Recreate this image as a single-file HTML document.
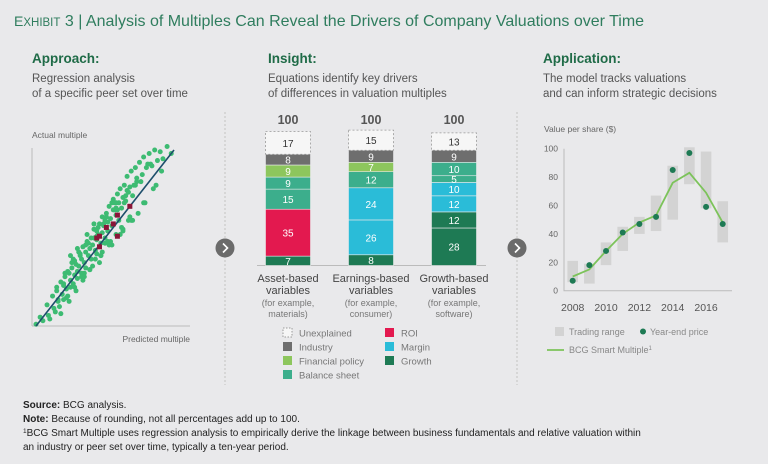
<!DOCTYPE html>
<html><head><meta charset="utf-8"><style>
html,body{margin:0;padding:0;background:#e9e9eb;}
svg{display:block;font-family:"Liberation Sans",sans-serif;}
</style></head><body>
<svg id="c" width="768" height="464" viewBox="0 0 768 464">
<text x="14" y="26" font-size="16" fill="#2f7d5e"><tspan font-size="14">E</tspan><tspan font-size="11.5">XHIBIT</tspan> 3 | Analysis of Multiples Can Reveal the Drivers of Company Valuations over Time</text>

<text x="32" y="63" font-size="13.5" font-weight="bold" fill="#1f6b47">Approach:</text>
<text x="32" y="82" font-size="11.5" fill="#555">Regression analysis</text>
<text x="32" y="97" font-size="11.5" fill="#555">of a specific peer set over time</text>

<text x="268" y="63" font-size="13.5" font-weight="bold" fill="#1f6b47">Insight:</text>
<text x="268" y="82" font-size="11.5" fill="#555">Equations identify key drivers</text>
<text x="268" y="97" font-size="11.5" fill="#555">of differences in valuation multiples</text>

<text x="543" y="63" font-size="13.5" font-weight="bold" fill="#1f6b47">Application:</text>
<text x="543" y="82" font-size="11.5" fill="#555">The model tracks valuations</text>
<text x="543" y="97" font-size="11.5" fill="#555">and can inform strategic decisions</text>

<line x1="225" y1="112" x2="225" y2="385" stroke="#c2c2c2" stroke-dasharray="2,2"/>
<line x1="517" y1="112" x2="517" y2="385" stroke="#c2c2c2" stroke-dasharray="2,2"/>
<g><circle cx="225" cy="248" r="9.5" fill="#6b6b6b"/><path d="M223 243.5 L227.5 248 L223 252.5" fill="none" stroke="#fff" stroke-width="1.6"/></g>
<g><circle cx="517" cy="248" r="9.5" fill="#6b6b6b"/><path d="M515 243.5 L519.5 248 L515 252.5" fill="none" stroke="#fff" stroke-width="1.6"/></g>

<!-- scatter -->
<text x="32" y="138" font-size="8.5" fill="#666">Actual multiple</text>
<text x="190" y="342" font-size="8.5" fill="#666" text-anchor="end">Predicted multiple</text>
<line x1="32" y1="148" x2="32" y2="326" stroke="#bbb"/>
<line x1="32" y1="326" x2="190" y2="326" stroke="#bbb"/>
<g id="scatter"></g>

<g id="stack"></g>
<g id="stackLegend"></g>

<text x="544" y="132" font-size="8.5" fill="#666">Value per share ($)</text>
<g id="vchart"></g>

<text x="23" y="408" font-size="10" fill="#222"><tspan font-weight="bold">Source:</tspan> BCG analysis.</text>
<text x="23" y="422" font-size="10" fill="#222"><tspan font-weight="bold">Note:</tspan> Because of rounding, not all percentages add up to 100.</text>
<text x="23" y="436" font-size="10" fill="#222"><tspan font-size="6.5" dy="-3">1</tspan><tspan dy="3">BCG Smart Multiple uses regression analysis to empirically derive the linkage between business fundamentals and relative valuation within</tspan></text>
<text x="23" y="450" font-size="10" fill="#222">an industry or peer set over time, typically a ten-year period.</text>
</svg>
<script>
// ---- scatter data (predicted, actual) 0-100 ----
const scatterPredicted=[0,3,5,8,9,12,13,14,15,16,17,18,19,20,20,21,22,23,24,25,25,26,27,28,28,29,30,30,31,32,33,33,34,35,36,36,37,38,39,40,40,41,42,43,44,44,45,46,47,48,48,49,50,51,52,52,53,54,55,56,57,58,59,60,60,61,62,63,64,65,66,67,68,69,70,72,73,75,77,78,80,82,84,86,88,90,92,95,98,30,35,42,47,55,63,70,25,38,50,58,66,
 10,15,18,22,26,29,31,34,37,39,43,45,48,50,53,56,58,62,64,67,71,74,76,79,83,87,91,20,24,27,33,36,41,44,47,51,54,57,61,65,69,72,78,81,85,23,28,32,35,42,46,49,55,59,63,68,73,16,21,39,52,44,58];
const scatterActual=[1,5,3,12,6,17,10,8,20,14,11,25,18,23,15,28,21,17,30,26,22,33,24,29,37,35,27,31,34,40,38,30,45,36,42,33,48,40,44,50,38,46,55,43,49,41,52,58,47,62,53,57,50,64,59,54,68,61,57,72,66,63,75,60,70,78,67,73,80,71,85,76,79,88,74,90,84,93,86,96,90,98,91,100,94,99,95,102,98,44,30,58,40,70,55,60,40,47,47,67,77,
 4,22,7,16,36,20,42,26,52,32,38,56,42,60,46,66,52,56,70,60,80,64,82,70,92,80,88,24,14,38,28,46,34,54,40,62,48,70,52,74,60,80,70,92,78,31,22,41,28,50,36,58,46,66,54,62,82,15,30,32,48,51,70];
const redPredicted=[44,46,51,56,59,68,59,46];
const redActual=[50,51,56,58,63,68,51,45];
// ---- stacked bars ----
const stackCats=["Asset-based","Earnings-based","Growth-based"];
const stackSub=["materials)","consumer)","software)"];
const stackTotals=[100,100,100];
const stackSegs=[
 [["growth",7],["roi",35],["balance",15],["balance",9],["financial",9],["industry",8],["unexplained",17]],
 [["growth",8],["margin",26],["margin",24],["balance",12],["financial",7],["industry",9],["unexplained",15]],
 [["growth",28],["growth",12],["margin",12],["margin",10],["balance",5],["balance",10],["industry",9],["unexplained",13]]
];
const legendKeys=["unexplained","industry","financial","balance","roi","margin","growth"];
const legendLabels=["Unexplained","Industry","Financial policy","Balance sheet","ROI","Margin","Growth"];
// ---- valuation chart ----
const years=[2008,2009,2010,2011,2012,2013,2014,2015,2016,2017];
const rangeLow=[6,5,18,28,40,42,50,75,58,34];
const rangeHigh=[21,19,34,45,52,67,88,101,98,63];
const yearEnd=[7,18,28,41,47,52,85,97,59,47];
const smartMultiple=[10,15,28,40,48,53,76,83,69,48];
const yTicks=[0,20,40,60,80,100];
const xTicks=[2008,2010,2012,2014,2016];

const NS="http://www.w3.org/2000/svg";
function mk(parent,tag,attrs,txt){const e=document.createElementNS(NS,tag);for(const k in attrs)e.setAttribute(k,attrs[k]);if(txt!==undefined)e.textContent=txt;parent.appendChild(e);return e;}
const colors={unexplained:"#f6f6f6",industry:"#6e6e6e",financial:"#8dc65d",balance:"#3cae8c",roi:"#e3194f",margin:"#2abcd8",growth:"#1e7a54"};

const sg=document.getElementById("scatter");
const sx=v=>36+v*1.38, sy=v=>326-v*1.76;
scatterPredicted.forEach((p,i)=>{
 const c=mk(sg,"circle",{cx:sx(p),cy:sy(scatterActual[i]),r:2.5,fill:"#3dbb72"});
 
 
});
const rl=mk(sg,"line",{x1:sx(0),y1:sy(0),x2:sx(100),y2:sy(100),stroke:"#1d4e6b","stroke-width":1.6});


redPredicted.forEach((p,i)=>{
 const r=mk(sg,"rect",{x:sx(p)-2.5,y:sy(redActual[i])-2.5,width:5,height:5,fill:"#8a1538"});
 
 
});

const st=document.getElementById("stack");
const base=265.5, k=1.34, bw=45, centers=[288,371,454];
const bl=mk(st,"line",{x1:257,y1:base,x2:486,y2:base,stroke:"#bbb"});


stackSegs.forEach((segs,bi)=>{
 let acc=0;const x=centers[bi]-bw/2;
 segs.forEach(([key,v])=>{
  const y=base-(acc+v)*k,h=v*k;
  const r=mk(st,"rect",{x:x,y:y,width:bw,height:h,fill:colors[key],stroke:key==="unexplained"?"#999":"#e9e9eb","stroke-width":key==="unexplained"?0.8:0.6,"stroke-dasharray":key==="unexplained"?"2,2":"none"});
  
  
  const t=mk(st,"text",{x:centers[bi],y:y+h/2+4,"font-size":10,"text-anchor":"middle",fill:key==="unexplained"?"#333":"#fff"},v);
  
  
  acc+=v;
 });
 const tt=mk(st,"text",{x:centers[bi],y:124,"font-size":12.5,"font-weight":"bold","text-anchor":"middle",fill:"#555"},stackTotals[bi]);
 
 
 const lines=[[stackCats[bi],11,"#444",282],["variables",11,"#444",294],["(for example,",9,"#777",306],[stackSub[bi],9,"#777",317]];
 lines.forEach(([s,fs,col,yy])=>{
  const l=mk(st,"text",{x:centers[bi],y:yy,"font-size":fs,"text-anchor":"middle",fill:col},s);
  
  
 });
});
const lg=document.getElementById("stackLegend");
legendKeys.forEach((key,i)=>{
 const col=i<4?0:1,row=i<4?i:i-4;
 const x=col?385:283,y=328+row*14;
 const r=mk(lg,"rect",{x:x,y:y,width:9,height:9,fill:colors[key],stroke:key==="unexplained"?"#999":"none","stroke-dasharray":"1.5,1.5"});
 
 
 const t=mk(lg,"text",{x:x+16,y:y+8.5,"font-size":9.5,fill:"#777"},legendLabels[i]);
 
 
});

const vg=document.getElementById("vchart");
const vx=yr=>572.7+(yr-2008)*16.67, vy=v=>290.7-v*1.42;
const ax=mk(vg,"path",{d:`M564 ${vy(100)} L564 ${vy(0)} L732 ${vy(0)}`,fill:"none",stroke:"#bbb"});


yTicks.forEach(t=>{
 const e=mk(vg,"text",{x:558,y:vy(t)+3,"font-size":8.5,"text-anchor":"end",fill:"#666"},t);
 
 
});
xTicks.forEach(t=>{
 const e=mk(vg,"text",{x:vx(t),y:311,"font-size":10.5,"text-anchor":"middle",fill:"#555"},t);
 
 
});
years.forEach((yr,i)=>{
 const r=mk(vg,"rect",{x:vx(yr)-5.3,y:vy(rangeHigh[i]),width:10.6,height:(rangeHigh[i]-rangeLow[i])*1.42,fill:"#d3d3d3"});
 
 
});
const pl=mk(vg,"polyline",{points:years.map((yr,i)=>vx(yr)+","+vy(smartMultiple[i])).join(" "),fill:"none",stroke:"#7cc35a","stroke-width":1.8});


years.forEach((yr,i)=>{
 const c=mk(vg,"circle",{cx:vx(yr),cy:vy(yearEnd[i]),r:3,fill:"#1e7a54"});
 
 
});
const l1=mk(vg,"rect",{x:555,y:327,width:9,height:9,fill:"#d3d3d3"});


const l1t=mk(vg,"text",{x:569,y:335,"font-size":9,fill:"#888"},"Trading range");


const l2=mk(vg,"circle",{cx:643,cy:331.5,r:3,fill:"#1e7a54"});


const l2t=mk(vg,"text",{x:650,y:335,"font-size":9,fill:"#888"},"Year-end price");


const l3=mk(vg,"line",{x1:547,y1:350,x2:564,y2:350,stroke:"#7cc35a","stroke-width":1.8});


const l3t=mk(vg,"text",{x:569,y:353,"font-size":9,fill:"#888"});
l3t.innerHTML='BCG Smart Multiple<tspan font-size="6" dy="-3">1</tspan>';


</script>
</body></html>
